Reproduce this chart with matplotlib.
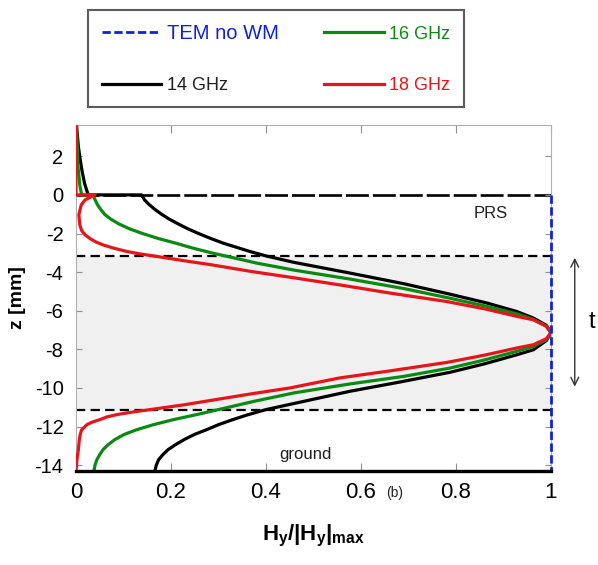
import matplotlib
matplotlib.use("Agg")
import matplotlib.pyplot as plt
import numpy as np

plt.rcParams['font.family'] = ['Liberation Sans', 'DejaVu Sans']
plt.rcParams['mathtext.fontset'] = 'custom'
plt.rcParams['mathtext.rm'] = 'Liberation Sans'
plt.rcParams['mathtext.bf'] = 'Liberation Sans:bold'
plt.rcParams['mathtext.it'] = 'Liberation Sans:italic'
plt.rcParams['axes.unicode_minus'] = False
plt.rcParams['lines.scale_dashes'] = False

# ---------------- data ----------------
# 14 GHz (black)
z14 = [3.6, 2.5, 1.8, 1.2, 0.6, 0.2, 0.0, 0.0, -0.25, -0.5, -0.75, -1.0, -1.25, -1.5,
       -1.75, -2.0, -2.25, -2.5, -2.93, -3.16, -3.5, -4.05, -4.6, -5.14, -5.6, -6.04,
       -6.38, -6.75, -7.14, -7.55, -8.02, -8.28, -8.75, -9.19, -9.7, -10.17, -10.69,
       -11.12, -11.4, -11.64, -11.9, -12.16, -12.4, -12.67, -12.93, -13.19, -13.45,
       -13.71, -14.0, -14.3]
h14 = [0.001, 0.005, 0.009, 0.013, 0.018, 0.023, 0.026, 0.138, 0.144, 0.154, 0.166, 0.180,
       0.196, 0.215, 0.235, 0.258, 0.283, 0.31, 0.366, 0.40, 0.46, 0.577, 0.69, 0.787,
       0.865, 0.928, 0.963, 0.99, 1.0, 0.99, 0.963, 0.928, 0.86, 0.787, 0.68, 0.577,
       0.48, 0.40, 0.36, 0.33, 0.30, 0.275, 0.25, 0.228, 0.21, 0.194, 0.183, 0.174,
       0.169, 0.166]

# 16 GHz (green)
z16 = [3.6, 1.5, 0.5, 0.0, 0.0, -0.25, -0.5, -0.75, -1.0, -1.25, -1.5, -1.75, -2.0,
       -2.25, -2.5, -2.75, -3.0, -3.25, -3.53, -3.9, -4.36, -4.85, -5.35, -5.75, -6.16,
       -6.45, -6.8, -7.14, -7.5, -7.85, -8.1, -8.55, -8.97, -9.4, -9.79, -10.25, -10.69,
       -11.12, -11.4, -11.64, -11.9, -12.16, -12.4, -12.67, -12.93, -13.19, -13.45,
       -13.71, -14.0, -14.3]
h16 = [0.001, 0.004, 0.008, 0.012, 0.036, 0.040, 0.045, 0.052, 0.060, 0.073, 0.090, 0.112,
       0.140, 0.172, 0.210, 0.245, 0.285, 0.33, 0.38, 0.46, 0.577, 0.69, 0.787, 0.86,
       0.928, 0.963, 0.99, 1.0, 0.99, 0.963, 0.928, 0.86, 0.787, 0.69, 0.577, 0.46, 0.375,
       0.30, 0.25, 0.205, 0.163, 0.128, 0.102, 0.082, 0.068, 0.057, 0.050, 0.044, 0.040,
       0.038]

# 18 GHz (red)
z18 = [3.6, 0.0, 0.0, -0.12, -0.26, -0.52, -1.03, -1.55, -1.85, -2.07, -2.3, -2.45,
       -2.59, -2.75, -2.93, -3.05, -3.16, -3.4, -3.62, -3.97, -4.26, -4.66, -5.1, -5.52,
       -5.9, -6.29, -6.47, -6.8, -7.14, -7.45, -7.76, -7.93, -8.3, -8.68, -9.1, -9.48,
       -10.0, -10.3, -10.62, -10.88, -11.12, -11.25, -11.38, -11.5, -11.64, -11.77,
       -11.9, -12.16, -12.4, -12.67, -13.19, -13.71, -14.3]
h18 = [0.0, 0.0, 0.040, 0.030, 0.019, 0.011, 0.006, 0.008, 0.012, 0.019, 0.032, 0.043,
       0.057, 0.078, 0.107, 0.133, 0.163, 0.225, 0.285, 0.37, 0.45, 0.555, 0.665, 0.78,
       0.86, 0.928, 0.963, 0.99, 1.0, 0.99, 0.963, 0.928, 0.86, 0.78, 0.665, 0.555,
       0.45, 0.37, 0.29, 0.225, 0.156, 0.118, 0.086, 0.065, 0.050, 0.034, 0.023, 0.012,
       0.009, 0.007, 0.005, 0.002, 0.0]

# TEM without wave-guide modes (blue dashed)
z_tem = [0.0, -14.3]
h_tem = [1.0, 1.0]

# layer boundaries (mm)
z_surface = 0.0
z_layer_top = -3.16
z_layer_bottom = -11.12
z_ground = -14.3

yticks = [2, 0, -2, -4, -6, -8, -10, -12, -14]
xticks = [0, 0.2, 0.4, 0.6, 0.8, 1.0]
xticklabels = ['0', '0.2', '0.4', '0.6', '0.8', '1']

# ---------------- figure ----------------
W, H = 598, 565
fig = plt.figure(figsize=(W / 100, H / 100), dpi=100)
ax = fig.add_axes([76 / W, 1 - 471 / H, 475 / W, (471 - 125) / H])

ax.set_xlim(0, 1)
ax.set_ylim(z_ground, 3.62)

ax.axhspan(z_layer_bottom, z_layer_top, color='#f0f0f0', zorder=0, lw=0)
ax.axhline(z_surface, color='black', lw=1.9, dashes=(16.5, 2.9), zorder=1)
ax.axhline(z_layer_top, color='black', lw=1.6, dashes=(6.7, 3.8), zorder=1)
ax.axhline(z_layer_bottom, color='black', lw=1.6, dashes=(6.7, 3.8), zorder=1)

lw = 2.3
l14, = ax.plot(h14, z14, color='black', lw=lw, zorder=3, solid_joinstyle='round')
l16, = ax.plot(h16, z16, color='#0a8a12', lw=lw, zorder=4, solid_joinstyle='round')
l18, = ax.plot(h18, z18, color='#e81419', lw=lw, zorder=5, solid_joinstyle='round')
ltem, = ax.plot(h_tem, z_tem, color='#1022d8', lw=2.0, dashes=(6, 2.5), zorder=6,
                clip_on=False)

# spines and ticks
for s in ['top', 'right', 'left']:
    ax.spines[s].set_color('#b0b0b0')
    ax.spines[s].set_linewidth(0.8)
ax.spines['bottom'].set_color('black')
ax.spines['bottom'].set_linewidth(2.4)
ax.spines['bottom'].set_zorder(7)

ax.set_yticks(yticks)
ax.set_yticklabels([str(v) for v in yticks])
ax.set_xticks(xticks)
ax.set_xticklabels(xticklabels)
ax.tick_params(axis='both', direction='in', top=True, right=True, color='#909090', width=0.8)
ax.tick_params(axis='x', length=6, labelsize=16, pad=8)
ax.tick_params(axis='y', length=4.5, labelsize=14.5, pad=9)

ax.set_ylabel('z [mm]', fontsize=14, fontweight='bold', labelpad=6)
ax.set_xlabel(r'$\mathbf{H_y/|H_y|_{max}}$', fontsize=16, labelpad=14)

# annotations
ax.text(0.872, -0.98, 'PRS', fontsize=12, ha='center', va='center', color='#202020')
ax.text(0.482, -13.45, 'ground', fontsize=12, ha='center', va='center', color='#202020')
fig.text(395 / W, 1 - 493 / H, '(b)', fontsize=10, ha='center', va='center', color='#202020')

trans = matplotlib.transforms.blended_transform_factory(ax.transAxes, ax.transData)
ax.annotate('', xy=(1.05, -3.26), xytext=(1.05, -9.93), xycoords=trans, textcoords=trans,
            arrowprops=dict(arrowstyle='<->', color='#333333', lw=1.0,
                            mutation_scale=14, shrinkA=0, shrinkB=0), annotation_clip=False)
ax.text(1.087, -6.57, 't', transform=trans, fontsize=17, ha='center', va='center', clip_on=False)

# legend
leg = fig.legend([ltem, l14, l16, l18], ['TEM no WM', '14 GHz', '16 GHz', '18 GHz'],
                 ncol=2, loc='upper left', bbox_to_anchor=(88 / W, 1 - 10 / H),
                 borderaxespad=0, frameon=True, fancybox=False, edgecolor='#333333',
                 handlelength=3.3, handletextpad=0.3, labelspacing=1.9, borderpad=0.75,
                 columnspacing=2.55, fontsize=13)
leg.get_frame().set_linewidth(1.5)
for txt, c in zip(leg.get_texts(), ['#1022d8', '#202020', '#0a8a12', '#e81419']):
    txt.set_color(c)
leg.get_texts()[0].set_fontsize(14.5)

fig.savefig('out.png', dpi=100)
